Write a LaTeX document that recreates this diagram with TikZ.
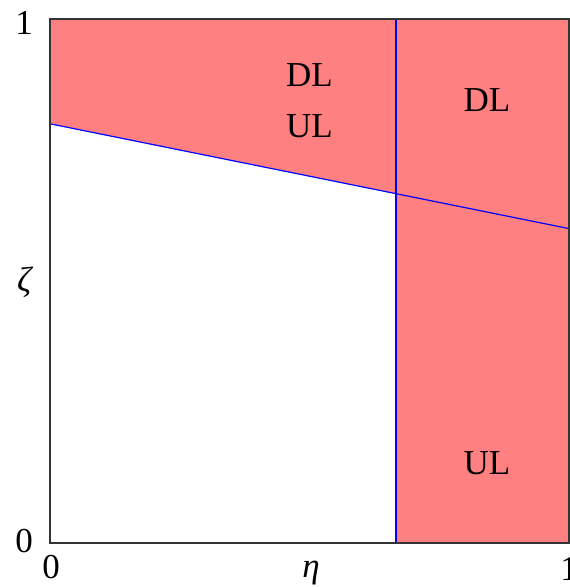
\documentclass[tikz,border=0pt]{standalone}
\usepackage{fontspec}
\setmainfont{Liberation Serif}
\begin{document}
\begin{tikzpicture}[x=519pt, y=524pt, every node/.style={font=\fontsize{35}{40}\selectfont, inner sep=0pt}]
                    \useasboundingbox (-50pt,-44pt) rectangle (520pt,543pt);
                    \fill[red!50] (0,1) -- (1,1) -- (1,0) -- (0.667,0) -- (0.667,0.667) -- (0,0.8) -- cycle;
                    
                    \draw[blue, line width=1.5pt] (0.667,0) -- (0.667,1);
                    \draw[blue, line width=1.2pt] (0,0.8) -- (1,0.6);
                    \draw[line width=2pt, black!80] (0,0) rectangle (1,1);
                    
                    \node (dlTop) at (0.5,0.893) {DL};
                    \node (ulTop) at (0.5,0.796) {UL};
                    \node (dlRight) at (0.842,0.845) {DL};
                    \node (ulRight) at (0.842,0.153) {UL};
                    
                    \node (zetaOne) at (-0.05,0.992) {1};
                    \node (zetaZero) at (-0.05,0.004) {0};
                    \node (zetaLabel) at (-0.048,0.497) {\textit{ζ}};
                    \node (etaZero) at (0.002,-0.046) {0};
                    \node (etaLabel) at (0.503,-0.057) {\textit{η}};
                    \node (etaOne) at (1,-0.05) {1};
                \end{tikzpicture}
\end{document}
